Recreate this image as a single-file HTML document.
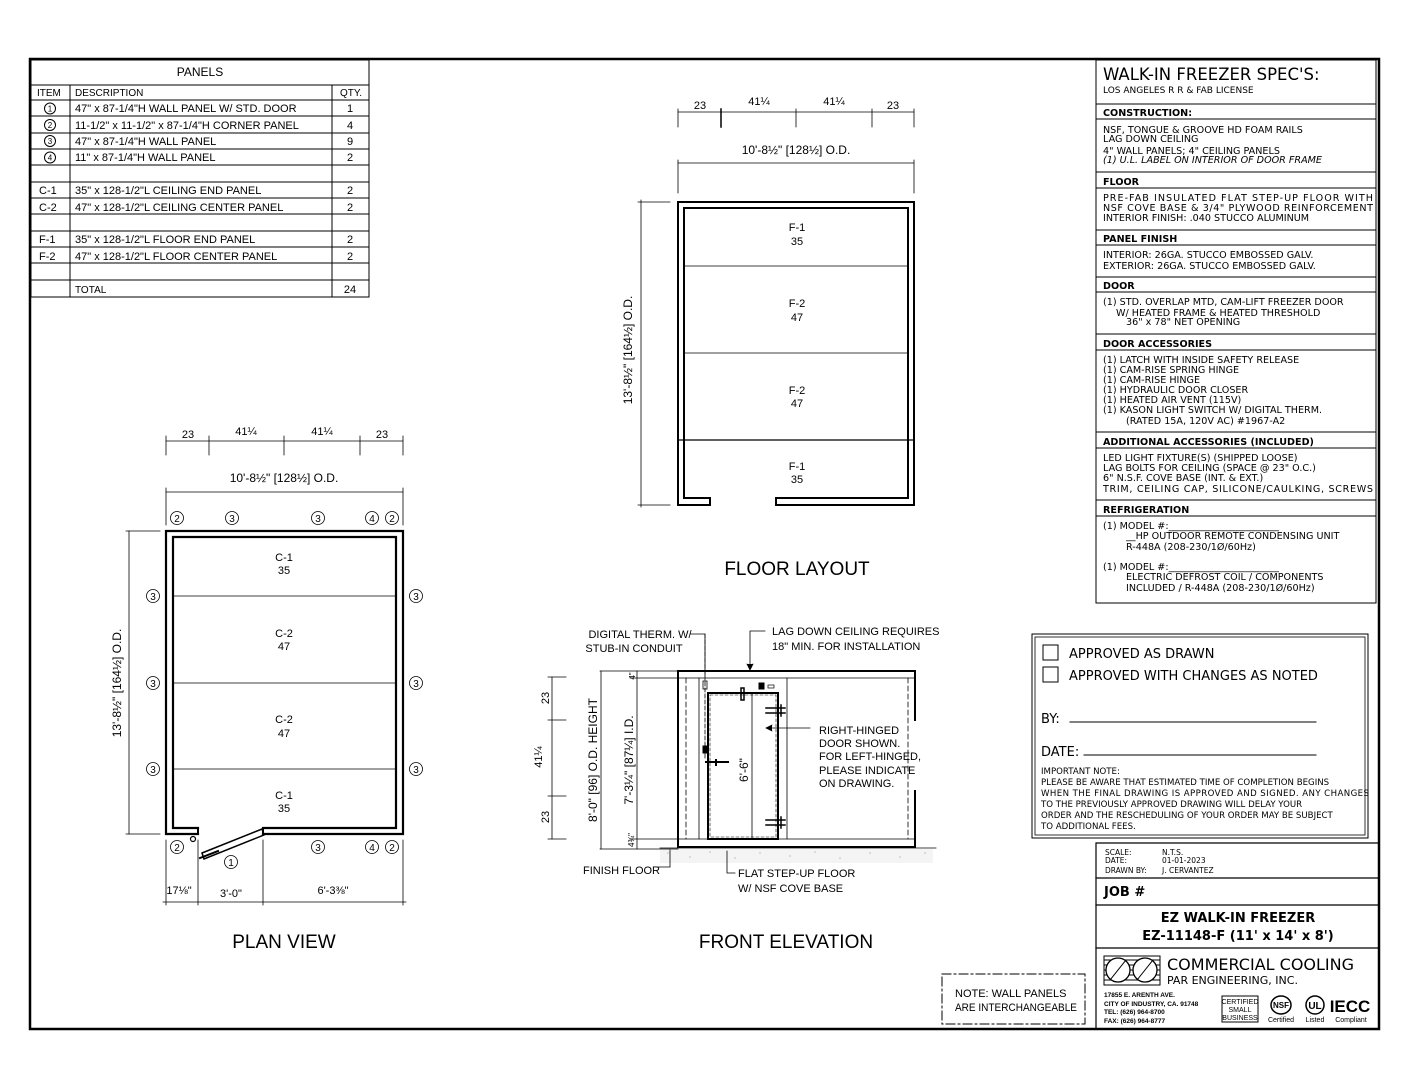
<!DOCTYPE html>
<html><head><meta charset="utf-8"><style>
html,body{margin:0;padding:0;background:#fff}
svg{display:block}
.c{font-family:"Liberation Sans Narrow","Liberation Sans",sans-serif;fill:#000}
.v{font-family:"DejaVu Sans","Liberation Sans",sans-serif;fill:#000}
</style></head><body>
<svg width="1408" height="1088" viewBox="0 0 1408 1088" xmlns="http://www.w3.org/2000/svg" stroke-linecap="square">
<rect x="0" y="0" width="1408" height="1088" fill="#fff"/>
<rect x="30" y="59" width="1349" height="970" fill="none" stroke="#000" stroke-width="2.5"/>

<!-- PANELS TABLE -->
<g stroke="#000" stroke-width="1" fill="none">
<rect x="31" y="60" width="338" height="237"/>
<line x1="31" y1="85" x2="369" y2="85"/>
<line x1="31" y1="100" x2="369" y2="100"/>
<line x1="31" y1="116" x2="369" y2="116"/><line x1="31" y1="133" x2="369" y2="133"/>
<line x1="31" y1="149" x2="369" y2="149"/><line x1="31" y1="165" x2="369" y2="165"/>
<line x1="31" y1="182" x2="369" y2="182"/><line x1="31" y1="198" x2="369" y2="198"/>
<line x1="31" y1="214" x2="369" y2="214"/><line x1="31" y1="231" x2="369" y2="231"/>
<line x1="31" y1="247" x2="369" y2="247"/><line x1="31" y1="263" x2="369" y2="263"/>
<line x1="31" y1="280" x2="369" y2="280"/>
<line x1="70" y1="85" x2="70" y2="297"/><line x1="332" y1="85" x2="332" y2="297"/>
<circle cx="50" cy="108.5" r="5.5"/><circle cx="50" cy="125" r="5.5"/><circle cx="50" cy="141" r="5.5"/><circle cx="50" cy="157.5" r="5.5"/>
</g>
<g class="c" font-size="11">
<text x="200" y="76" text-anchor="middle" font-size="12" font-family="Liberation Sans">PANELS</text>
<text x="37" y="96" font-size="10" font-family="Liberation Sans">ITEM</text>
<text x="75" y="96" font-size="10" font-family="Liberation Sans">DESCRIPTION</text>
<text x="351" y="96" font-size="10" text-anchor="middle" font-family="Liberation Sans">QTY.</text>
<g font-size="8" text-anchor="middle"><text x="50" y="111.5">1</text><text x="50" y="128">2</text><text x="50" y="144">3</text><text x="50" y="160.5">4</text></g>
<text x="75" y="112">47" x 87-1/4"H WALL PANEL W/ STD. DOOR</text>
<text x="75" y="129">11-1/2" x 11-1/2" x 87-1/4"H CORNER PANEL</text>
<text x="75" y="145">47" x 87-1/4"H WALL PANEL</text>
<text x="75" y="161">11" x 87-1/4"H WALL PANEL</text>
<text x="39" y="194">C-1</text><text x="75" y="194">35" x 128-1/2"L CEILING END PANEL</text>
<text x="39" y="211">C-2</text><text x="75" y="211">47" x 128-1/2"L CEILING CENTER PANEL</text>
<text x="39" y="243">F-1</text><text x="75" y="243">35" x 128-1/2"L FLOOR END PANEL</text>
<text x="39" y="260">F-2</text><text x="75" y="260">47" x 128-1/2"L FLOOR CENTER PANEL</text>
<text x="75" y="293" font-size="10">TOTAL</text>
<g text-anchor="middle"><text x="350" y="112">1</text><text x="350" y="129">4</text><text x="350" y="145">9</text><text x="350" y="161">2</text><text x="350" y="194">2</text><text x="350" y="211">2</text><text x="350" y="243">2</text><text x="350" y="260">2</text><text x="350" y="293">24</text></g>
</g>

<!-- SPEC BOX -->
<g stroke="#000" stroke-width="1" fill="none">
<rect x="1096" y="60" width="280" height="543"/>
<line x1="1096" y1="104" x2="1376" y2="104"/><line x1="1096" y1="119" x2="1376" y2="119"/>
<line x1="1096" y1="172" x2="1376" y2="172"/><line x1="1096" y1="188" x2="1376" y2="188"/>
<line x1="1096" y1="230" x2="1376" y2="230"/><line x1="1096" y1="245" x2="1376" y2="245"/>
<line x1="1096" y1="277" x2="1376" y2="277"/><line x1="1096" y1="292" x2="1376" y2="292"/>
<line x1="1096" y1="334" x2="1376" y2="334"/><line x1="1096" y1="350" x2="1376" y2="350"/>
<line x1="1096" y1="432" x2="1376" y2="432"/><line x1="1096" y1="448" x2="1376" y2="448"/>
<line x1="1096" y1="500" x2="1376" y2="500"/><line x1="1096" y1="516" x2="1376" y2="516"/>
</g>
<g class="v" font-size="9.6">
<text x="1103" y="80" font-size="16.5">WALK-IN FREEZER SPEC'S:</text>
<text x="1103" y="93" font-size="9">LOS ANGELES R R &amp; FAB LICENSE</text>
<g font-weight="bold" font-size="9.6"><text x="1103" y="116">CONSTRUCTION:</text><text x="1103" y="185">FLOOR</text><text x="1103" y="242">PANEL FINISH</text><text x="1103" y="289">DOOR</text><text x="1103" y="347">DOOR ACCESSORIES</text><text x="1103" y="445">ADDITIONAL ACCESSORIES (INCLUDED)</text><text x="1103" y="513">REFRIGERATION</text></g>
<text x="1103" y="133">NSF, TONGUE &amp; GROOVE HD FOAM RAILS</text>
<text x="1103" y="142">LAG DOWN CEILING</text>
<text x="1103" y="154">4" WALL PANELS; 4" CEILING PANELS</text>
<text x="1103" y="163" font-style="italic">(1) U.L. LABEL ON INTERIOR OF DOOR FRAME</text>
<text x="1103" y="201" textLength="270">PRE-FAB INSULATED FLAT STEP-UP FLOOR WITH</text>
<text x="1103" y="211" textLength="270">NSF COVE BASE &amp; 3/4" PLYWOOD REINFORCEMENT</text>
<text x="1103" y="221">INTERIOR FINISH: .040 STUCCO ALUMINUM</text>
<text x="1103" y="258">INTERIOR: 26GA. STUCCO EMBOSSED GALV.</text>
<text x="1103" y="269">EXTERIOR: 26GA. STUCCO EMBOSSED GALV.</text>
<text x="1103" y="305">(1) STD. OVERLAP MTD, CAM-LIFT FREEZER DOOR</text>
<text x="1116" y="316">W/ HEATED FRAME &amp; HEATED THRESHOLD</text>
<text x="1126" y="325">36" x 78" NET OPENING</text>
<text x="1103" y="363">(1) LATCH WITH INSIDE SAFETY RELEASE</text>
<text x="1103" y="373">(1) CAM-RISE SPRING HINGE</text>
<text x="1103" y="383">(1) CAM-RISE HINGE</text>
<text x="1103" y="393">(1) HYDRAULIC DOOR CLOSER</text>
<text x="1103" y="403">(1) HEATED AIR VENT (115V)</text>
<text x="1103" y="413">(1) KASON LIGHT SWITCH W/ DIGITAL THERM.</text>
<text x="1126" y="424">(RATED 15A, 120V AC) #1967-A2</text>
<text x="1103" y="461">LED LIGHT FIXTURE(S) (SHIPPED LOOSE)</text>
<text x="1103" y="471">LAG BOLTS FOR CEILING (SPACE @ 23" O.C.)</text>
<text x="1103" y="481">6" N.S.F. COVE BASE (INT. &amp; EXT.)</text>
<text x="1103" y="492" textLength="270">TRIM, CEILING CAP, SILICONE/CAULKING, SCREWS</text>
<text x="1103" y="529">(1) MODEL #:_______________________</text>
<text x="1126" y="539">__HP OUTDOOR REMOTE CONDENSING UNIT</text>
<text x="1126" y="550">R-448A (208-230/1Ø/60Hz)</text>
<text x="1103" y="570">(1) MODEL #:_______________________</text>
<text x="1126" y="580">ELECTRIC DEFROST COIL / COMPONENTS</text>
<text x="1126" y="591">INCLUDED / R-448A (208-230/1Ø/60Hz)</text>
</g>

<!-- APPROVAL BOX -->
<g stroke="#000" fill="none">
<rect x="1032" y="634" width="336" height="204" stroke-width="1"/>
<rect x="1035" y="637" width="330" height="198" stroke-width="0.8"/>
<rect x="1043" y="645" width="15" height="15" stroke-width="1"/>
<rect x="1043" y="667" width="15" height="15" stroke-width="1"/>
<line x1="1070" y1="722" x2="1316" y2="722"/>
<line x1="1084" y1="755" x2="1316" y2="755"/>
</g>
<g class="v">
<text x="1069" y="658" font-size="13">APPROVED AS DRAWN</text>
<text x="1069" y="680" font-size="13">APPROVED WITH CHANGES AS NOTED</text>
<text x="1041" y="723" font-size="13">BY:</text>
<text x="1041" y="756" font-size="13">DATE:</text>
<g font-size="8.6"><text x="1041" y="774">IMPORTANT NOTE:</text>
<text x="1041" y="785">PLEASE BE AWARE THAT ESTIMATED TIME OF COMPLETION BEGINS</text>
<text x="1041" y="796" textLength="328">WHEN THE FINAL DRAWING IS APPROVED AND SIGNED. ANY CHANGES</text>
<text x="1041" y="807">TO THE PREVIOUSLY APPROVED DRAWING WILL DELAY YOUR</text>
<text x="1041" y="818">ORDER AND THE RESCHEDULING OF YOUR ORDER MAY BE SUBJECT</text>
<text x="1041" y="829">TO ADDITIONAL FEES.</text></g>
</g>

<!-- TITLE BLOCK -->
<g stroke="#000" fill="none" stroke-width="1.2">
<polyline points="1096,1029 1096,843 1379,843"/>
<line x1="1096" y1="878" x2="1379" y2="878"/>
<line x1="1096" y1="905" x2="1379" y2="905"/>
<line x1="1096" y1="948" x2="1379" y2="948"/>
</g>
<g class="v" font-size="7.5">
<text x="1105" y="855">SCALE:</text><text x="1162" y="855">N.T.S.</text>
<text x="1105" y="863">DATE:</text><text x="1162" y="863">01-01-2023</text>
<text x="1105" y="873">DRAWN BY:</text><text x="1162" y="873">J. CERVANTEZ</text>
<text x="1104" y="896" font-size="13" font-weight="bold">JOB #</text>
<text x="1238" y="922" font-size="13" font-weight="bold" text-anchor="middle">EZ WALK-IN FREEZER</text>
<text x="1238" y="940" font-size="13" font-weight="bold" text-anchor="middle">EZ-11148-F  (11' x 14' x 8')</text>
<text x="1167" y="970" font-size="16">COMMERCIAL COOLING</text>
<text x="1167" y="984" font-size="11">PAR ENGINEERING, INC.</text>
</g>
<g stroke="#000" fill="none" stroke-width="1">
<rect x="1104" y="956" width="56" height="29"/>
<line x1="1104" y1="960" x2="1160" y2="960"/><line x1="1104" y1="965" x2="1160" y2="965"/><line x1="1104" y1="970" x2="1160" y2="970"/><line x1="1104" y1="975" x2="1160" y2="975"/><line x1="1104" y1="980" x2="1160" y2="980"/>
<circle cx="1118" cy="970" r="12" fill="#fff" stroke-width="1.3"/><circle cx="1145" cy="970" r="12" fill="#fff" stroke-width="1.3"/>
<line x1="1110" y1="980" x2="1126" y2="960"/><line x1="1137" y1="980" x2="1153" y2="960"/>
<rect x="1222" y="996" width="36" height="26"/>
<ellipse cx="1281" cy="1005" rx="10" ry="9" stroke-width="1.5"/>
<circle cx="1315" cy="1005" r="9" stroke-width="1.5"/>
</g>
<g class="c" font-size="6.5" font-weight="bold">
<text x="1104" y="997">17855 E. ARENTH AVE.</text>
<text x="1104" y="1006">CITY OF INDUSTRY, CA. 91748</text>
<text x="1104" y="1014">TEL: (626) 964-8700</text>
<text x="1104" y="1023">FAX: (626) 964-8777</text>
</g>
<g class="c" text-anchor="middle">
<text x="1240" y="1004" font-size="7">CERTIFIED</text><text x="1240" y="1012" font-size="7">SMALL</text><text x="1240" y="1020" font-size="7">BUSINESS</text>
<text x="1281" y="1008" font-size="8" font-weight="bold">NSF</text>
<text x="1315" y="1009" font-size="10" font-weight="bold">UL</text>
<text x="1350" y="1012" font-size="17" font-weight="bold">IECC</text>
<text x="1281" y="1022" font-size="7">Certified</text><text x="1315" y="1022" font-size="7">Listed</text><text x="1351" y="1022" font-size="7">Compliant</text>
</g>

<!-- NOTE BOX -->
<rect x="942" y="974" width="143" height="50" fill="none" stroke="#000" stroke-width="1" stroke-dasharray="9,3,2,3"/>
<text class="c" x="955" y="997" font-size="11">NOTE: WALL PANELS</text>
<text class="c" x="955" y="1011" font-size="11" textLength="122" lengthAdjust="spacingAndGlyphs">ARE INTERCHANGEABLE</text>

<!-- PLAN VIEW -->
<g stroke="#000" fill="none">
<path d="M198,834 L166,834 L166,531 L403,531 L403,834 L263,834" stroke-width="2.2"/>
<path d="M198,828 L173,828 L173,537 L396,537 L396,828 L263,828" stroke-width="2.2"/>
<line x1="198" y1="828" x2="198" y2="834" stroke-width="2"/><line x1="263" y1="828" x2="263" y2="834" stroke-width="2"/>
<line x1="173" y1="596" x2="396" y2="596" stroke-width="0.8"/>
<line x1="173" y1="683" x2="396" y2="683" stroke-width="0.8"/>
<line x1="173" y1="769" x2="396" y2="769" stroke-width="0.8"/>
<path d="M202,853 L262,829 L264,835 L204,859 Z" stroke-width="1.5"/>
<path d="M200,858 L218,851" stroke-width="2"/>
<circle cx="193" cy="839" r="2.5" stroke-width="1.2"/>
<g stroke-width="0.8">
<line x1="166" y1="441" x2="403" y2="441"/>
<line x1="166" y1="436" x2="166" y2="455"/><line x1="209" y1="436" x2="209" y2="455"/><line x1="284" y1="436" x2="284" y2="455"/><line x1="360" y1="436" x2="360" y2="455"/><line x1="403" y1="436" x2="403" y2="455"/>
<line x1="166" y1="492" x2="403" y2="492"/>
<line x1="166" y1="488" x2="166" y2="525"/><line x1="403" y1="488" x2="403" y2="525"/>
<line x1="129" y1="531" x2="129" y2="834"/>
<line x1="126" y1="531" x2="160" y2="531"/><line x1="126" y1="834" x2="160" y2="834"/>
<line x1="166" y1="840" x2="166" y2="905"/><line x1="198" y1="840" x2="198" y2="905"/><line x1="263" y1="840" x2="263" y2="905"/><line x1="403" y1="840" x2="403" y2="905"/>
<line x1="163" y1="902" x2="406" y2="902"/>
<circle cx="177" cy="518" r="6.5"/><circle cx="232" cy="518" r="6.5"/><circle cx="318" cy="518" r="6.5"/><circle cx="372" cy="518" r="6.5"/><circle cx="392" cy="518" r="6.5"/>
<circle cx="153" cy="596" r="6.5"/><circle cx="153" cy="683" r="6.5"/><circle cx="153" cy="769" r="6.5"/>
<circle cx="416" cy="596" r="6.5"/><circle cx="416" cy="683" r="6.5"/><circle cx="416" cy="769" r="6.5"/>
<circle cx="177" cy="847" r="6.5"/><circle cx="318" cy="847" r="6.5"/><circle cx="372" cy="847" r="6.5"/><circle cx="392" cy="847" r="6.5"/><circle cx="231" cy="862" r="6.5"/>
</g>
</g>
<g class="c" font-size="11" text-anchor="middle">
<text x="177" y="522" font-size="10">2</text><text x="232" y="522" font-size="10">3</text><text x="318" y="522" font-size="10">3</text><text x="372" y="522" font-size="10">4</text><text x="392" y="522" font-size="10">2</text>
<text x="153" y="600" font-size="10">3</text><text x="153" y="687" font-size="10">3</text><text x="153" y="773" font-size="10">3</text>
<text x="416" y="600" font-size="10">3</text><text x="416" y="687" font-size="10">3</text><text x="416" y="773" font-size="10">3</text>
<text x="177" y="851" font-size="10">2</text><text x="318" y="851" font-size="10">3</text><text x="372" y="851" font-size="10">4</text><text x="392" y="851" font-size="10">2</text><text x="231" y="866" font-size="10">1</text>
<text x="188" y="438">23</text><text x="246" y="435">41¼</text><text x="322" y="435">41¼</text><text x="382" y="438">23</text>
<text x="284" y="482" font-size="12">10'-8½" [128½] O.D.</text>
<text x="284" y="561">C-1</text><text x="284" y="574">35</text>
<text x="284" y="637">C-2</text><text x="284" y="650">47</text>
<text x="284" y="723">C-2</text><text x="284" y="737">47</text>
<text x="284" y="799">C-1</text><text x="284" y="812">35</text>
<text transform="translate(121,683) rotate(-90)" font-size="12">13'-8½" [164½] O.D.</text>
<text x="179" y="894">17⅛"</text><text x="231" y="897">3'-0"</text><text x="333" y="894">6'-3⅜"</text>
<text x="284" y="948" font-size="19" font-family="Liberation Sans">PLAN VIEW</text>
</g>

<!-- FLOOR LAYOUT -->
<g stroke="#000" fill="none">
<path d="M710,505 L678,505 L678,202 L914,202 L914,505 L776,505 L776,498 L908,498 L908,208 L684,208 L684,498 L710,498 Z" stroke-width="2"/>
<line x1="684" y1="266" x2="908" y2="266" stroke-width="0.8"/>
<line x1="684" y1="353" x2="908" y2="353" stroke-width="0.8"/>
<line x1="678" y1="440" x2="914" y2="440" stroke-width="1.3"/>
<g stroke-width="0.8">
<line x1="678" y1="112" x2="914" y2="112"/>
<line x1="678" y1="109" x2="678" y2="127"/><line x1="721" y1="109" x2="721" y2="127" stroke-width="1.5"/><line x1="796" y1="109" x2="796" y2="127"/><line x1="872" y1="109" x2="872" y2="127"/><line x1="914" y1="109" x2="914" y2="127"/>
<line x1="678" y1="163" x2="914" y2="163"/>
<line x1="678" y1="160" x2="678" y2="193"/><line x1="914" y1="160" x2="914" y2="193"/>
<line x1="641" y1="200" x2="641" y2="507"/>
<line x1="638" y1="202" x2="670" y2="202"/><line x1="638" y1="505" x2="670" y2="505"/>
</g></g>
<g class="c" font-size="11" text-anchor="middle">
<text x="700" y="109">23</text><text x="759" y="105">41¼</text><text x="834" y="105">41¼</text><text x="893" y="109">23</text>
<text x="796" y="154" font-size="12">10'-8½" [128½] O.D.</text>
<text x="797" y="231">F-1</text><text x="797" y="245">35</text>
<text x="797" y="307">F-2</text><text x="797" y="321">47</text>
<text x="797" y="394">F-2</text><text x="797" y="407">47</text>
<text x="797" y="470">F-1</text><text x="797" y="483">35</text>
<text transform="translate(632,350) rotate(-90)" font-size="12">13'-8½" [164½] O.D.</text>
<text x="797" y="575" font-size="19" font-family="Liberation Sans">FLOOR LAYOUT</text>
</g>

<!-- FRONT ELEVATION -->
<g stroke="#000" fill="none">
<path d="M915,720 L915,671 L678,671 L678,847 L915,847 L915,791" stroke-width="2"/>
<line x1="678" y1="678" x2="915" y2="678" stroke-width="0.8"/>
<line x1="678" y1="839" x2="915" y2="839" stroke-width="0.8"/>
<line x1="699" y1="678" x2="699" y2="839" stroke-width="0.8"/>
<line x1="787" y1="678" x2="787" y2="839" stroke-width="0.8"/>
<line x1="686" y1="678" x2="686" y2="839" stroke-width="0.8" stroke-dasharray="5,3"/>
<line x1="908" y1="678" x2="908" y2="839" stroke-width="0.8" stroke-dasharray="5,3"/>
<rect x="708" y="693" width="70" height="146" stroke-width="2"/>
<rect x="710" y="695" width="66" height="142" stroke-width="0.6" stroke-dasharray="3,2"/>
<line x1="752" y1="693" x2="752" y2="839" stroke-width="0.8"/>
<line x1="705" y1="634" x2="705" y2="760" stroke-width="0.8" stroke-dasharray="4,2"/>
<rect x="703" y="681" width="4" height="8" stroke-width="0.8"/>
<rect x="703" y="746" width="4" height="7" fill="#000"/>
<path d="M706,762 L728,762 M716,760 L716,765" stroke-width="2"/>
<rect x="759" y="683" width="5" height="6" fill="#000"/><rect x="768" y="685" width="6" height="3" stroke-width="0.7"/>
<rect x="741" y="688" width="3" height="12" stroke-width="1.5"/>
<path d="M766,708 L785,708 M766,713 L785,713 M781,705 L781,716" stroke-width="1.5"/>
<path d="M766,820 L785,820 M766,825 L785,825 M781,817 L781,828" stroke-width="1.5"/>
<rect x="660" y="849" width="273" height="14" stroke="none" fill="#f4f4f4"/>
<line x1="660" y1="848" x2="936" y2="848" stroke-width="0.8"/>
<g stroke-width="0.8">
<path d="M690,634 L705,634 L705,676"/>
<path d="M765,631 L750,631 L750,668"/><path d="M747,664 L750,670 L753,664" fill="#000"/>
<path d="M810,728 L768,728"/><path d="M772,725 L766,728 L772,731" fill="#000"/>
<path d="M658,867 L670,867 L670,850"/>
<path d="M735,873 L727,873 L727,851"/>
<line x1="552" y1="677" x2="552" y2="839"/>
<line x1="548" y1="677" x2="566" y2="677"/><line x1="548" y1="720" x2="566" y2="720"/><line x1="548" y1="796" x2="566" y2="796"/><line x1="548" y1="839" x2="566" y2="839"/>
<line x1="601" y1="671" x2="601" y2="849"/>
<line x1="600" y1="671" x2="678" y2="671"/><line x1="600" y1="849" x2="678" y2="849"/>
<line x1="637" y1="671" x2="637" y2="849"/>
<line x1="630" y1="678" x2="678" y2="678"/><line x1="630" y1="839" x2="678" y2="839"/>
</g></g>
<g fill="#999">
<circle cx="668" cy="853" r="0.6"/><circle cx="690" cy="857" r="0.6"/><circle cx="710" cy="852" r="0.6"/><circle cx="735" cy="858" r="0.6"/><circle cx="760" cy="853" r="0.6"/><circle cx="790" cy="856" r="0.6"/><circle cx="815" cy="852" r="0.6"/><circle cx="840" cy="858" r="0.6"/><circle cx="870" cy="853" r="0.6"/><circle cx="900" cy="857" r="0.6"/><circle cx="925" cy="853" r="0.6"/>
</g>
<g class="c" font-size="11">
<text x="640" y="638" text-anchor="middle">DIGITAL THERM. W/</text>
<text x="634" y="652" text-anchor="middle">STUB-IN CONDUIT</text>
<text x="772" y="635">LAG DOWN CEILING REQUIRES</text>
<text x="772" y="650">18" MIN. FOR INSTALLATION</text>
<text x="819" y="734">RIGHT-HINGED</text>
<text x="819" y="747">DOOR SHOWN.</text>
<text x="819" y="760">FOR LEFT-HINGED,</text>
<text x="819" y="774">PLEASE INDICATE</text>
<text x="819" y="787">ON DRAWING.</text>
<text x="583" y="874">FINISH FLOOR</text>
<text x="738" y="877">FLAT STEP-UP FLOOR</text>
<text x="738" y="892">W/ NSF COVE BASE</text>
<g text-anchor="middle">
<text transform="translate(549,698) rotate(-90)">23</text>
<text transform="translate(549,817) rotate(-90)">23</text>
<text transform="translate(542,757) rotate(-90)">41¼</text>
<text transform="translate(597,760) rotate(-90)" font-size="12">8'-0" [96] O.D. HEIGHT</text>
<text transform="translate(633,760) rotate(-90)" font-size="12">7'-3¼" [87¼] I.D.</text>
<text transform="translate(635,676) rotate(-90)" font-size="8">4"</text>
<text transform="translate(634,840) rotate(-90)" font-size="8">4¾"</text>
<text transform="translate(748,770) rotate(-90)" font-size="12">6'-6"</text>
<text x="786" y="948" font-size="19" font-family="Liberation Sans">FRONT ELEVATION</text>
</g>
</g>
</svg>
</body></html>
